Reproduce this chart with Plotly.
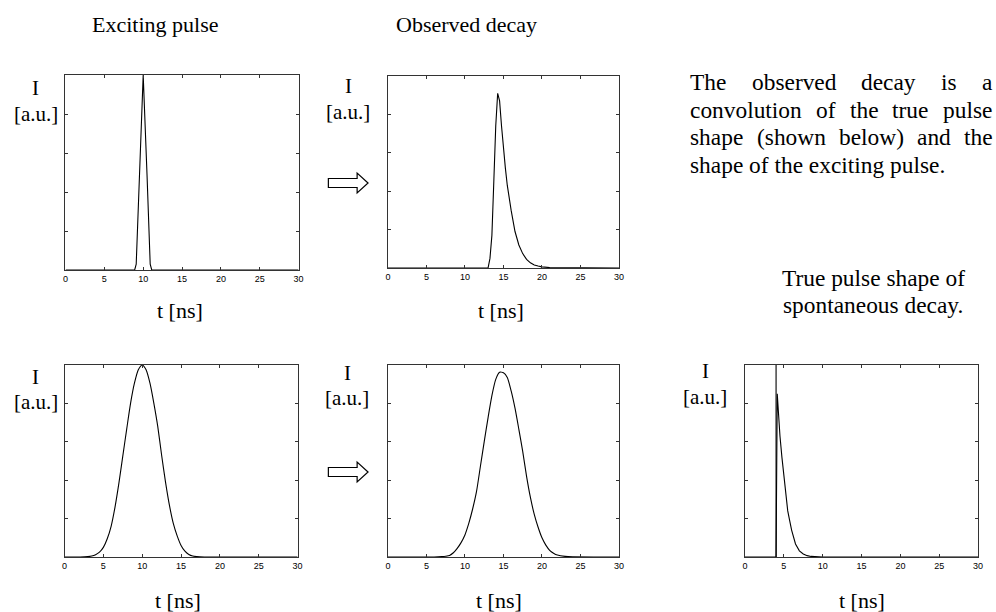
import plotly.graph_objects as go

W, H = 996, 612

# ---------------- data ----------------
x_ticks = [0, 5, 10, 15, 20, 25, 30]
y_ticks = [0.2, 0.4, 0.6, 0.8]

# top-left: narrow exciting pulse
t_exc_narrow = [0, 8.9, 9.1, 9.5, 10.0, 10.5, 10.9, 11.1, 30]
i_exc_narrow = [0, 0, 0.03, 0.48, 1.0, 0.48, 0.03, 0, 0]

# top-middle: observed decay for narrow pulse
t_obs_narrow = [0, 13.0, 13.25, 13.5, 13.75, 14.0, 14.25, 14.5, 14.75, 15.0, 15.25,
                15.5, 15.75, 16.0, 16.5, 17.0, 17.5, 18.0, 18.5, 19.0, 19.5, 20.0, 21.0, 30]
i_obs_narrow = [0, 0, 0.05, 0.17, 0.45, 0.74, 0.91, 0.87, 0.74, 0.62, 0.52,
                0.43, 0.36, 0.30, 0.19, 0.12, 0.075, 0.045, 0.027, 0.016, 0.010, 0.006, 0.002, 0]

# bottom-left: broad exciting pulse
t_exc_broad = [0, 2, 3, 3.5, 4, 4.5, 5, 5.5, 6, 6.5, 7, 7.5, 8, 8.5, 9, 9.5, 10,
               10.5, 11, 11.5, 12, 12.5, 13, 13.5, 14, 14.5, 15, 15.5, 16, 16.5, 17, 18, 30]
i_exc_broad = [0, 0, 0.002, 0.005, 0.012, 0.025, 0.05, 0.095, 0.16, 0.26, 0.385, 0.525,
               0.665, 0.80, 0.905, 0.975, 1.0, 0.975, 0.905, 0.80, 0.68, 0.53, 0.39, 0.27,
               0.175, 0.11, 0.06, 0.03, 0.013, 0.005, 0.002, 0, 0]

# bottom-middle: observed decay for broad pulse
t_obs_broad = [0, 6, 7, 7.5, 8, 8.5, 9, 9.5, 10, 10.5, 11, 11.5, 12, 12.5, 13, 13.5, 14,
               14.5, 15, 15.5, 16, 16.5, 17, 17.5, 18, 18.5, 19, 19.5, 20, 20.5, 21, 21.5,
               22, 23, 24, 30]
i_obs_broad = [0, 0, 0.002, 0.004, 0.008, 0.022, 0.045, 0.075, 0.115, 0.175, 0.25, 0.34,
               0.47, 0.60, 0.725, 0.84, 0.925, 0.962, 0.96, 0.935, 0.865, 0.775, 0.665, 0.55,
               0.42, 0.31, 0.222, 0.155, 0.10, 0.062, 0.035, 0.02, 0.01, 0.003, 0.001, 0]

# bottom-right: true pulse shape of spontaneous decay
t_true = [0, 4.0, 4.15, 4.3, 4.5, 4.75, 5.0, 5.25, 5.5, 5.75, 6.0, 6.5, 7.0, 7.5, 8.0,
          8.5, 9.0, 10.0, 30]
i_true = [0, 0, 0.85, 0.74, 0.63, 0.52, 0.42, 0.31, 0.24, 0.19, 0.14, 0.068, 0.032,
          0.016, 0.007, 0.003, 0.001, 0, 0]
t_marker = [4, 4]
i_marker = [0, 1]

# ---------------- layout helpers ----------------
def px(x):
    return x / W

def py(y):
    return 1 - y / H

boxes = [  # x0, x1, y0, y1 in pixels
    (63, 298, 75, 270),
    (388, 621, 76, 268),
    (62, 297, 365, 557),
    (388, 621, 365, 557),
    (748, 983, 365, 557),
]

fig = go.Figure()

series = [
    (t_exc_narrow, i_exc_narrow, "linear"),
    (t_obs_narrow, i_obs_narrow, "linear"),
    (t_exc_broad, i_exc_broad, "spline"),
    (t_obs_broad, i_obs_broad, "spline"),
    (t_true, i_true, "linear"),
]

for k, (tx, iy, shape) in enumerate(series):
    n = "" if k == 0 else str(k + 1)
    fig.add_trace(go.Scatter(x=tx, y=iy, mode="lines", xaxis="x" + n, yaxis="y" + n,
                             line=dict(color="black", width=1.1, shape=shape,
                                       **({"smoothing": 0.6} if shape == "spline" else {})),
                             showlegend=False, hoverinfo="skip"))
fig.add_trace(go.Scatter(x=t_marker, y=i_marker, mode="lines", xaxis="x5", yaxis="y5",
                         line=dict(color="black", width=1.1), showlegend=False,
                         hoverinfo="skip"))

layout = dict(
    width=W, height=H, margin=dict(l=0, r=0, t=0, b=0),
    paper_bgcolor="white", plot_bgcolor="white", showlegend=False,
)
for k, (x0, x1, y0, y1) in enumerate(boxes):
    n = "" if k == 0 else str(k + 1)
    layout["xaxis" + n] = dict(
        domain=[px(x0), px(x1)], range=[0, 30], anchor="y" + n,
        tickvals=x_ticks, ticks="inside", ticklen=3, tickcolor="#333",
        mirror="ticks", showline=True, linecolor="#333", linewidth=1,
        showgrid=False, zeroline=False,
        tickfont=dict(family="Liberation Sans, Arial", size=9, color="black"),
    )
    layout["yaxis" + n] = dict(
        domain=[py(y1), py(y0)], range=[0, 1], anchor="x" + n,
        tickvals=y_ticks, showticklabels=False, ticks="inside", ticklen=3,
        tickcolor="#333", mirror="ticks", showline=True, linecolor="#333",
        linewidth=1, showgrid=False, zeroline=False,
    )
fig.update_layout(**layout)

SERIF = "Liberation Serif, Times New Roman, serif"
FS_PARA = 23.4
FS_LAB = 21

def text(s, x, y, xanchor="center", size=FS_LAB):
    fig.add_annotation(text=s, x=px(x), y=py(y), xref="paper", yref="paper",
                       xanchor=xanchor, yanchor="middle", showarrow=False,
                       font=dict(family=SERIF, size=size, color="black"))

text("Exciting pulse", 153, 25, size=22)
text("Observed decay", 467, 25, size=22)

for (xc, yi, ya) in [(33, 88, 114), (348, 86, 112), (33, 377, 402), (347, 373, 398),
                     (708, 371, 397)]:
    text("I", xc, yi)
    text("[a.u.]", xc, ya)

for (xc, yc) in [(178, 310), (502, 310), (176, 600), (500, 600), (866, 600)]:
    text("t [ns]", xc, yc, size=22)

# Times-compatible advance widths (per 1000 em) for justified lines
WID = {" ": 250, "a": 444, "b": 500, "c": 444, "d": 500, "e": 444, "f": 333, "g": 500,
       "h": 500, "i": 278, "l": 278, "n": 500, "o": 500, "p": 500, "r": 333, "s": 389,
       "t": 278, "u": 500, "v": 500, "w": 722, "x": 500, "y": 500, "T": 611, "(": 333,
       ")": 333, ".": 250}

def wwidth(word):
    return sum(WID.get(c, 500) for c in word) / 1000 * FS_PARA

def justified(line, left, right, y):
    words = line.split()
    total = sum(wwidth(w) for w in words)
    gap = (right - left - total) / (len(words) - 1)
    x = left
    for w in words:
        text(w, x, y, xanchor="left", size=FS_PARA)
        x += wwidth(w) + gap

L, R = 691, 995
justified("The observed decay is a", L, R, 82)
justified("convolution of the true pulse", L, R, 110)
justified("shape (shown below) and the", L, R, 137)
text("shape of the exciting pulse.", L, 165, xanchor="left", size=FS_PARA)

text("True pulse shape of", 972, 278, xanchor="right", size=FS_PARA)
text("spontaneous decay.", 970, 305, xanchor="right", size=FS_PARA)

# hollow arrows
def arrow(cy, x0=328, xs=357, x1=368, hs=4.5, hh=10):
    pts = [(x0, cy - hs), (xs, cy - hs), (xs, cy - hh), (x1, cy), (xs, cy + hh),
           (xs, cy + hs), (x0, cy + hs)]
    path = "M " + " L ".join(f"{px(a):.5f},{py(b):.5f}" for a, b in pts) + " Z"
    fig.add_shape(type="path", path=path, xref="paper", yref="paper",
                  line=dict(color="black", width=1.2), fillcolor="white")

arrow(183)
arrow(472)

fig.write_html(
    "out.html",
    config={"displayModeBar": False},
    post_script="document.body.style.margin='0';document.body.style.padding='0';"
                "document.documentElement.style.overflow='hidden';",
)
